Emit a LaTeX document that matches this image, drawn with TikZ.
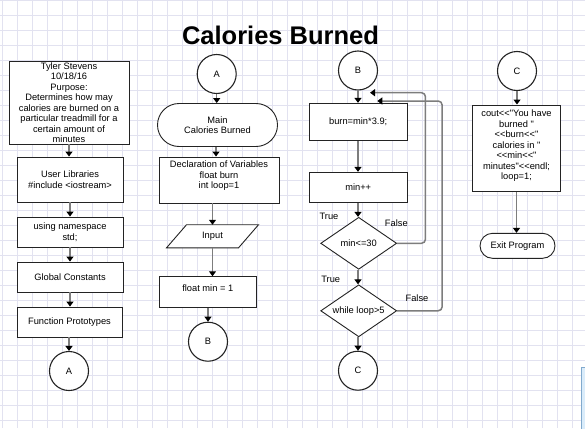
\documentclass[tikz,border=0pt]{standalone}
\usepackage{fontspec}
\setmainfont{Liberation Sans}
% plain family: straight quotes and no TeX ligature mapping for the code text
\newfontfamily\codefont{Liberation Sans}
\usetikzlibrary{arrows.meta,shapes.geometric}

\pgfdeclarelayer{paper}
\pgfsetlayers{paper,main}

\definecolor{gridline}{RGB}{226,226,240}
\definecolor{flowline}{RGB}{125,125,125}
\definecolor{outline}{RGB}{35,35,35}
\definecolor{panelfill}{RGB}{218,236,250}
\definecolor{paneledge}{RGB}{130,170,205}

\newcommand\diagtext{\codefont\fontsize{9.3}{10.5}\selectfont}

\tikzset{
  proc/.style={rectangle, draw=outline, line width=0.9pt, fill=white,
    inner sep=0pt, align=center, font=\diagtext},
  term/.style={proc},
  conn/.style={circle, draw=outline, line width=1.1pt, fill=white,
    minimum size=39pt, inner sep=0pt, font=\diagtext},
  decision/.style={diamond, draw=outline, line width=0.9pt, fill=white,
    aspect=1.46, inner sep=0pt, minimum width=76pt, minimum height=52pt,
    font=\diagtext},
  flow/.style={draw=flowline, line width=1.5pt,
    -{Triangle[length=5pt,width=7pt,color=black]}},
  loopback/.style={flow, rounded corners=4pt},
  lbl/.style={inner sep=0pt, font=\diagtext},
}

\begin{document}
\begin{tikzpicture}[x=1pt,y=-1pt]
  \useasboundingbox (0,0) rectangle (585,428);
  % page and squared paper
  \begin{pgfonlayer}{paper}
    \fill[white] (0,0) rectangle (585,428);
    \foreach \i in {0,...,38}
      \draw[gridline, line width=0.8pt] (2.3+15*\i,0) -- (2.3+15*\i,428);
    \foreach \j in {0,...,28}
      \draw[gridline, line width=0.8pt] (0,0.5+15*\j) -- (585,0.5+15*\j);
    \filldraw[fill=panelfill, draw=paneledge, line width=0.8pt]
      (581.5,367.5) rectangle (590,432);
  \end{pgfonlayer}

  % title
  \node[anchor=base, inner sep=0pt, font=\fontsize{25.5}{30}\bfseries]
    (title) at (280.5,45) {Calories Burned};

  % column 1: header and declarations
  \node[proc, minimum width=120pt, minimum height=83pt] (purpose) at (69,102.5)
    {Tyler Stevens\\10/18/16\\Purpose:\\Determines how may\\calories are burned on a\\particular treadmill for a\\certain amount of\\minutes};
  \node[proc, minimum width=106pt, minimum height=45pt] (libs) at (70,179.5)
    {User Libraries\\\#include <iostream>};
  \node[proc, minimum width=106pt, minimum height=30pt] (ns) at (70,232)
    {using namespace\\std;};
  \node[proc, minimum width=106pt, minimum height=30pt] (consts) at (70,277)
    {Global Constants};
  \node[proc, minimum width=105pt, minimum height=30pt] (protos) at (69.5,322)
    {Function Prototypes};
  \node[conn] (a1) at (69,371) {A};

  % column 2: main
  \node[conn] (a2) at (216.7,74) {A};
  \node[term, rounded corners=21.5pt, minimum width=120pt, minimum height=43pt]
    (main) at (217.5,125) {Main\\Calories Burned};
  \node[proc, minimum width=120pt, minimum height=46pt] (decl) at (219,180)
    {Declaration of Variables\\float burn\\int loop=1\\\mbox{}};
  % input step: a parallelogram slanted 20pt across its box
  \node[inner sep=0pt, minimum width=91.6pt, minimum height=22.7pt,
    font=\diagtext] (input) at (212.5,236.3) {Input};
  \begin{pgfonlayer}{paper}
    \draw[outline, line width=0.9pt, fill=white]
      ([xshift=20pt]input.north west) -- (input.north east)
      -- ([xshift=-20pt]input.south east) -- (input.south west) -- cycle;
  \end{pgfonlayer}
  \node[proc, minimum width=97.7pt, minimum height=30.6pt] (fmin) at (207.8,292)
    {float min = 1\\[-3pt]\mbox{}};
  \node[conn] (b2) at (208,341.7) {B};

  % column 3: loop
  \node[conn] (b3) at (358,70.5) {B};
  \node[proc, minimum width=98.3pt, minimum height=37.4pt] (calc) at (358.2,122)
    {burn=min*3.9;};
  \node[proc, minimum width=98.3pt, minimum height=30pt] (inc) at (358.2,187.3)
    {min++};
  \node[decision] (d1) at (358.7,243.3) {min<=30};
  \node[decision] (d2) at (358.7,310.8) {while loop>5};
  \node[conn] (c3) at (358,370.7) {C};
  \node[lbl] (t1) at (329,216.7) {True};
  \node[lbl] (f1) at (396.3,222.7) {False};
  \node[lbl] (t2) at (330.7,279) {True};
  \node[lbl] (f2) at (417,297.7) {False};
  \coordinate (back1) at (370,92.7);
  \coordinate (back2) at (377.3,101);

  % column 4: output
  \node[conn] (c4) at (517,71) {C};
  \node[proc, minimum width=88.4pt, minimum height=86.7pt] (out) at (516.5,148.3)
    {cout<<"You have\\burned "\\<<burn<<"\\calories in "\\<<min<<"\\minutes"<<endl;\\loop=1;\\[-4pt]\mbox{}};
  \node[term, rounded corners=12.5pt, minimum width=75pt, minimum height=25pt]
    (exit) at (517.5,245.8) {Exit Program};

  % connectors, column 1
  \draw[flow] (purpose.south) -- (purpose.south |- libs.north);
  \draw[flow] (libs.south) -- (libs.south |- ns.north);
  \draw[flow] (ns.south) -- (ns.south |- consts.north);
  \draw[flow] (consts.south) -- (consts.south |- protos.north);
  \draw[flow] (protos.south -| a1) -- (a1.north);

  % connectors, column 2
  \draw[flow] (a2.south) -- (a2.south |- main.north);
  \draw[flow] ([xshift=-1.5pt]main.south) -- ([xshift=-1.5pt]main.south |- decl.north);
  \draw[flow] (input.north |- decl.south) -- (input.north);
  \draw[flow] (input.south) -- (input.south |- fmin.north);
  \draw[flow] (b2.north |- fmin.south) -- (b2.north);

  % connectors, column 3
  \draw[flow] (b3.south) -- (b3.south |- calc.north);
  \draw[flow] (b3.south |- calc.south) -- (b3.south |- inc.north);
  \draw[flow] (b3.south |- inc.south) -- (b3.south |- d1.north);
  \draw[flow] (b3.south |- d1.south) -- (b3.south |- d2.north);
  \draw[flow] (b3.south |- d2.south) -- (c3.north);
  \draw[loopback] (d1.east) -- ++(28.3,0) |- (back1);
  \draw[loopback] (d2.east) -- ++(45,0) |- (back2);

  % connectors, column 4
  \draw[flow] (c4.south) -- (c4.south |- out.north);
  \draw[flow] (out.south) -- (out.south |- exit.north);
\end{tikzpicture}
\end{document}
